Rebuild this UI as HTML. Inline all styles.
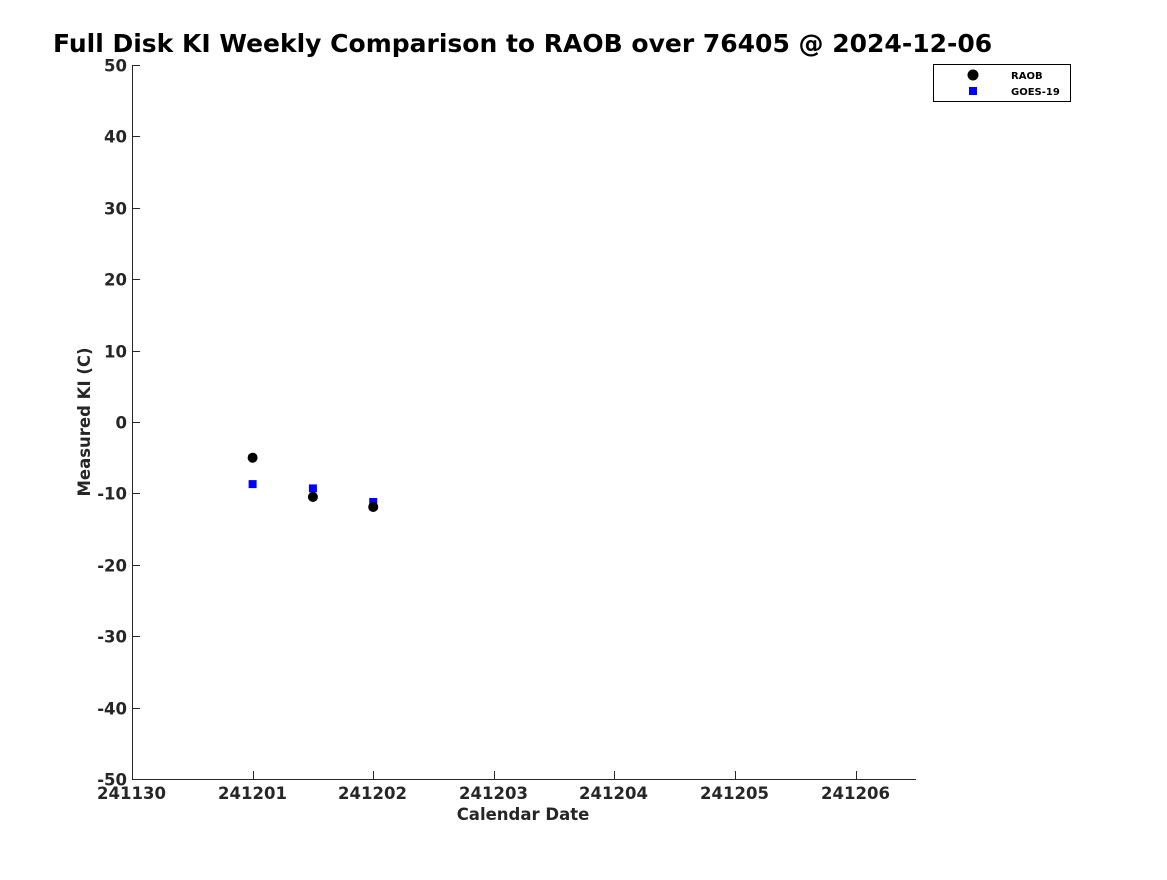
<!DOCTYPE html>
<html><head><meta charset="utf-8"><style>
body{margin:0;background:#fff;}
svg text{font-family:"DejaVu Sans","Liberation Sans",sans-serif;font-weight:bold;}
</style></head><body>
<svg id="chart" width="1167" height="875" xmlns="http://www.w3.org/2000/svg">
<text x="53" y="52" font-size="25" fill="#000">Full Disk KI Weekly Comparison to RAOB over 76405 @ 2024-12-06</text>
<g id="axes"></g>
<g id="marks"></g>
<g>
<rect x="933.5" y="64.5" width="137" height="37" fill="#fff" stroke="#000" stroke-width="1"/>
<circle cx="973" cy="75" r="5.5" fill="#000"/>
<text x="1011" y="79" font-size="10" fill="#000">RAOB</text>
<rect x="969" y="87" width="8" height="8" fill="#0000ff"/>
<text x="1011" y="95" font-size="10" fill="#000">GOES-19</text>
</g>
<text x="523" y="820" font-size="16.5" fill="#262626" text-anchor="middle">Calendar Date</text>
<text transform="translate(90,422) rotate(-90)" font-size="16.5" fill="#262626" text-anchor="middle">Measured KI (C)</text>
</svg>
<script>
const xTickLabels=["241130","241201","241202","241203","241204","241205","241206"];
const yTickValues=[50,40,30,20,10,0,-10,-20,-30,-40,-50];
const raobDays=[1,1.5,2];
const raobValues=[-5.0,-10.5,-11.9];
const goesDays=[1,1.5,2];
const goesValues=[-8.7,-9.3,-11.2];
const X0=132,X1=916,Y0=65,Y1=779;
const xs=d=>X0+(d/6.5)*(X1-X0);
const ys=v=>Y0+(50-v)/100*(Y1-Y0);
const NS="http://www.w3.org/2000/svg";
const ax=document.getElementById('axes'),mk=document.getElementById('marks');
function mkEl(t,a,p){const e=document.createElementNS(NS,t);for(const k in a)e.setAttribute(k,a[k]);p.appendChild(e);return e;}
const yl=mkEl('line',{x1:X0+0.5,y1:Y0,x2:X0+0.5,y2:Y1,stroke:'#262626'},ax);


const xl=mkEl('line',{x1:X0,y1:Y1+0.5,x2:X1,y2:Y1+0.5,stroke:'#262626'},ax);


yTickValues.forEach(v=>{const y=Math.round(ys(v))+0.5;
 mkEl('line',{x1:X0,y1:y,x2:X0+8,y2:y,stroke:'#262626'},ax);
 const t=mkEl('text',{x:X0-5,y:y+6,'font-size':16.5,fill:'#262626','text-anchor':'end'},ax);t.textContent=v;
 
 
});
xTickLabels.forEach((s,i)=>{const x=Math.round(xs(i))+0.5;
 mkEl('line',{x1:x,y1:Y1,x2:x,y2:Y1-8,stroke:'#262626'},ax);
 const t=mkEl('text',{x:x-1,y:Y1+20,'font-size':16.5,fill:'#262626','text-anchor':'middle'},ax);t.textContent=s;
 
 
});
goesDays.forEach((d,i)=>{const r=mkEl('rect',{x:xs(d)-4,y:ys(goesValues[i])-4,width:8,height:8,fill:'#0000ff'},mk);
 
 
});
raobDays.forEach((d,i)=>{const c=mkEl('circle',{cx:xs(d),cy:ys(raobValues[i]),r:5,fill:'#000'},mk);
 
 
});
</script>
</body></html>
